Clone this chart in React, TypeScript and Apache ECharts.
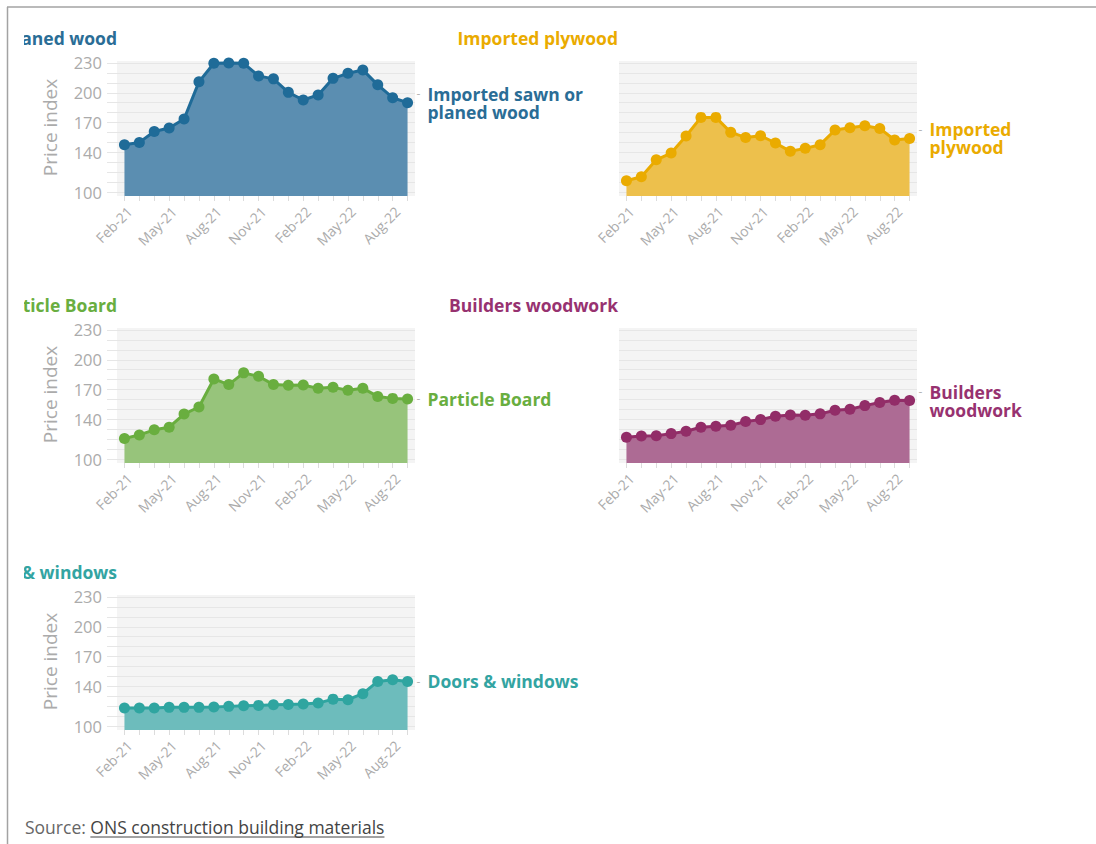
import React, { useEffect, useRef } from "react";
import * as echarts from "echarts";

const months = [
  "Feb-21", "Mar-21", "Apr-21", "May-21", "Jun-21", "Jul-21", "Aug-21", "Sep-21", "Oct-21", "Nov-21",
  "Dec-21", "Jan-22", "Feb-22", "Mar-22", "Apr-22", "May-22", "Jun-22", "Jul-22", "Aug-22", "Sep-22",
];

const sawnWood = [147.7, 150, 161, 164.5, 173.6, 211, 229.7, 230, 229.7, 217, 214, 200.4, 192.7, 197.8, 214.5, 219.6, 223, 208, 195, 190];
const plywood = [111.4, 115.4, 132.5, 139.3, 156.5, 175.2, 175.2, 160.1, 155, 156.8, 149.4, 141, 144, 147.7, 162.5, 164.8, 166.8, 164.1, 152.4, 154];
const particleBoard = [120.6, 124.3, 129.4, 132.1, 145.3, 152.4, 180.7, 175, 186.8, 183.4, 175, 174.3, 174.6, 171.2, 172.2, 169.2, 171.2, 163.1, 161.1, 160.5];
const buildersWoodwork = [121.9, 123.2, 123.5, 125.6, 128, 132, 133, 134, 137.7, 139.7, 143.1, 144.4, 144.1, 145.5, 149.2, 150.2, 153.8, 156.9, 159.3, 158.9];
const doorsWindows = [118.1, 118.1, 118.1, 118.8, 118.8, 118.8, 119.1, 119.8, 120.5, 120.8, 121.5, 121.8, 122.1, 123.1, 127.1, 126.5, 132.6, 144.9, 146.6, 144.9];

const yTickLabels = [100, 140, 170, 200, 230];

const FONT = "'Open Sans', Lato, sans-serif";

const panels = [
  { title: "Imported sawn or planed wood", label: ["Imported sawn or", "planed wood"], data: sawnWood, line: "#1f6b98", area: "#5b8eb1", text: "#2a6d96", col: 0, row: 0 },
  { title: "Imported plywood", label: ["Imported", "plywood"], data: plywood, line: "#eaab00", area: "#edc04c", text: "#eaab00", col: 1, row: 0 },
  { title: "Particle Board", label: ["Particle Board"], data: particleBoard, line: "#69ae3f", area: "#97c47b", text: "#69ae3f", col: 0, row: 1 },
  { title: "Builders woodwork", label: ["Builders", "woodwork"], data: buildersWoodwork, line: "#922d68", area: "#ad6b94", text: "#973270", col: 1, row: 1 },
  { title: "Doors & windows", label: ["Doors & windows"], data: doorsWindows, line: "#2fa5a0", area: "#6dbcbc", text: "#33a4a2", col: 0, row: 2 },
];

const colLeft = [117, 619];
const rowTop = [61, 328, 595];
const titleY = [38, 305, 571.5];
const W = 298;
const H = 135;
const DMIN = 96;
const DMAX = 232;

function measure(text: string, font: string) {
  const c = document.createElement("canvas").getContext("2d");
  if (!c) return text.length * 8;
  c.font = font;
  return c.measureText(text).width;
}

export default function App() {
  const ref = useRef<HTMLDivElement>(null);
  useEffect(() => {
    if (!ref.current) return;
    const chart = echarts.init(ref.current, undefined, { renderer: "svg" });
    const grids: any[] = [];
    const xAxes: any[] = [];
    const yAxes: any[] = [];
    const series: any[] = [];
    const graphics: any[] = [];
    const pxPerUnit = H / (DMAX - DMIN);

    panels.forEach((p) => {
      const left = colLeft[p.col];
      const top = rowTop[p.row];
      const g = grids.length;
      grids.push({ left, top, width: W, height: H, show: true, backgroundColor: "#f4f4f4", borderWidth: 0 });
      grids.push({ left, top: top + (DMAX - 230) * pxPerUnit, width: W, height: 130 * pxPerUnit, show: false });
      xAxes.push({
        gridIndex: g, type: "category", data: months, boundaryGap: true,
        axisLine: { show: false },
        axisTick: { show: true, alignWithLabel: true, interval: 0, length: 5, lineStyle: { color: "#dcdcdc" } },
        axisLabel: { interval: 2, rotate: 45, color: "#ababab", fontSize: 14, fontFamily: FONT, margin: 8, verticalAlign: "top" },
      });
      xAxes.push({ gridIndex: g + 1, type: "category", data: months, show: false });
      yAxes.push({ gridIndex: g, type: "value", min: DMIN, max: DMAX, show: false });
      yAxes.push({
        gridIndex: g + 1, type: "value", min: 100, max: 230, interval: 10, z: 1,
        axisLine: { show: false },
        axisTick: { show: p.col === 0, length: 10, lineStyle: { color: "#e6e6e6" } },
        splitLine: { show: true, lineStyle: { color: "#e6e6e6", width: 1 } },
        axisLabel: {
          show: p.col === 0, margin: 15, color: "#ababab", fontSize: 16.5, fontFamily: FONT,
          formatter: (v: number) => (yTickLabels.includes(v) ? String(v) : ""),
        },
        name: p.col === 0 ? "Price index" : "",
        nameLocation: "middle", nameGap: 58,
        nameTextStyle: { color: "#ababab", fontSize: 19, fontFamily: FONT },
      });
      const labelText = p.label
        .map((l, k) => (k === 0 ? `{d|-}{t|${l}}` : `{s| }{t|${l}}`))
        .join("\n");
      series.push({
        type: "line", name: p.title, xAxisIndex: g, yAxisIndex: g, data: p.data,
        symbol: "circle", symbolSize: 11, z: 3, showSymbol: true, showAllSymbol: true,
        lineStyle: { width: 3, color: p.line },
        itemStyle: { color: p.line },
        areaStyle: { color: p.area, opacity: 1 },
        endLabel: {
          show: true, distance: 9, formatter: () => labelText,
          rich: {
            d: { color: "#b5b5b5", fontSize: 12, width: 11, fontFamily: FONT },
            s: { width: 11, fontSize: 12 },
            t: { color: p.text, fontSize: 17.5, fontWeight: "bold", fontFamily: FONT, lineHeight: 18 },
          },
        },
      });
      graphics.push({
        type: "text", x: p.col === 0 ? colLeft[0] : colLeft[1] - 1, y: titleY[p.row], z: 5,
        style: {
          text: p.title, fill: p.text, font: `bold 17.5px ${FONT}`,
          align: "right", textAlign: "right", verticalAlign: "middle", textVerticalAlign: "middle",
        },
      });
    });

    // clip strip at left edge of cells
    graphics.push({ type: "rect", z: 10, shape: { x: 0, y: 0, width: 24, height: 844 }, style: { fill: "#ffffff" } });
    // frame
    graphics.push({ type: "line", z: 11, shape: { x1: 7, y1: 7, x2: 1096, y2: 7 }, style: { stroke: "#a3a3a3", lineWidth: 1.5 } });
    graphics.push({ type: "line", z: 11, shape: { x1: 7.5, y1: 7, x2: 7.5, y2: 844 }, style: { stroke: "#a3a3a3", lineWidth: 1.5 } });

    // source
    const srcFont = `17.5px ${FONT}`;
    const pre = "Source: ";
    const link = "ONS construction building materials";
    const w1 = measure(pre, srcFont);
    const w2 = measure(link, srcFont);
    graphics.push({ type: "text", x: 25, y: 827, z: 12, style: { text: pre, fill: "#666666", font: srcFont, verticalAlign: "middle", textVerticalAlign: "middle" } });
    graphics.push({ type: "text", x: 25 + w1, y: 827, z: 12, style: { text: link, fill: "#444444", font: srcFont, verticalAlign: "middle", textVerticalAlign: "middle" } });
    graphics.push({ type: "line", z: 12, shape: { x1: 25 + w1, y1: 837, x2: 25 + w1 + w2, y2: 837 }, style: { stroke: "#444444", lineWidth: 1 } });

    chart.setOption({
      animation: false,
      textStyle: { fontFamily: FONT },
      grid: grids,
      xAxis: xAxes,
      yAxis: yAxes,
      series,
      graphic: graphics,
    });
    return () => chart.dispose();
  }, []);
  return (
    <div
      ref={ref}
      style={{ position: "absolute", left: 0, top: 0, width: 1096, height: 844, background: "#ffffff" }}
    />
  );
}
